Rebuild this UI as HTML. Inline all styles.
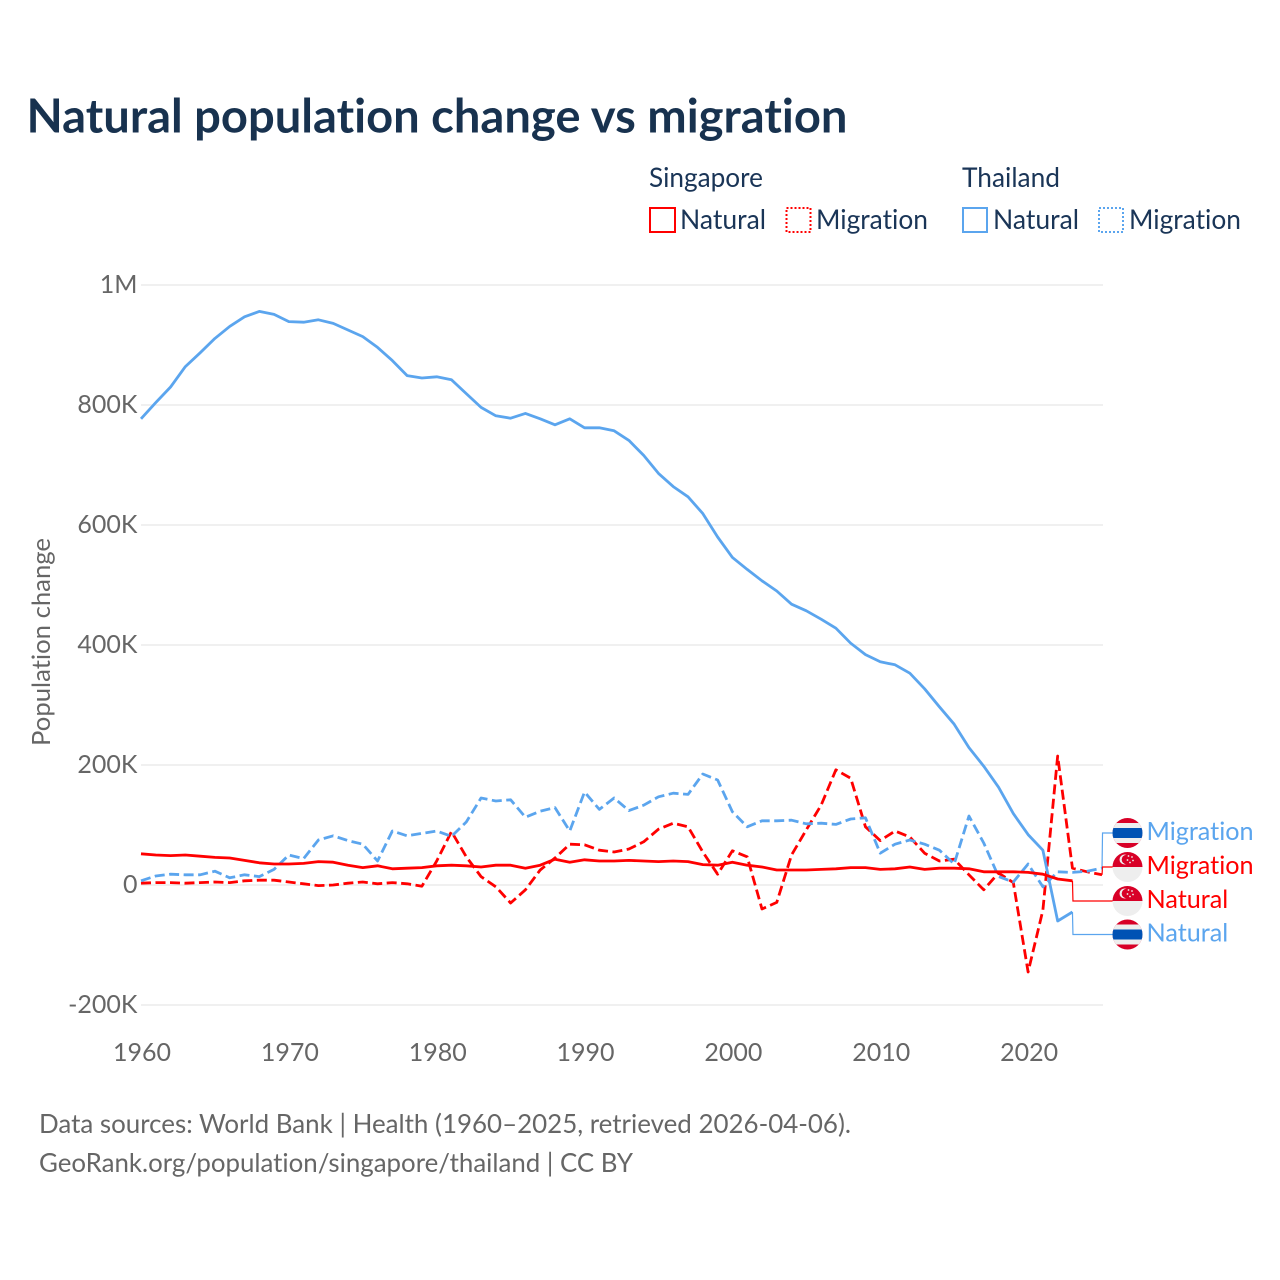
<!DOCTYPE html>
<html lang="en">
<head>
<meta charset="utf-8">
<title>Natural population change vs migration</title>
<style>
html,body{margin:0;padding:0;background:#fff;}
svg{display:block;font-family:"Lato","Carlito","Liberation Sans",sans-serif;font-variant-ligatures:none;font-feature-settings:"liga" 0;}
</style>
</head>
<body>
<svg id="chart" xmlns="http://www.w3.org/2000/svg" width="1280" height="1280" viewBox="0 0 1280 1280">
  <defs>
    <clipPath id="flag-clip"><circle cx="0" cy="0" r="15"/></clipPath>
    <g id="flag-th">
      <g clip-path="url(#flag-clip)">
        <rect x="-15" y="-15" width="30" height="30" fill="#d80027"/>
        <rect x="-15" y="-10" width="30" height="20" fill="#eeeeee"/>
        <rect x="-15" y="-5" width="30" height="10" fill="#0052b4"/>
      </g>
    </g>
    <g id="flag-sg">
      <g clip-path="url(#flag-clip)">
        <rect x="-15" y="-15" width="30" height="15" fill="#d80027"/>
        <rect x="-15" y="0" width="30" height="15" fill="#eeeeee"/>
        <circle cx="-3" cy="-7.5" r="5" fill="#eeeeee"/>
        <circle cx="-1.2" cy="-7.5" r="4.6" fill="#d80027"/>
        <circle cx="1" cy="-11" r="0.9" fill="#eeeeee"/>
        <circle cx="4.5" cy="-10" r="0.9" fill="#eeeeee"/>
        <circle cx="5.5" cy="-6.5" r="0.9" fill="#eeeeee"/>
        <circle cx="2.5" cy="-4.5" r="0.9" fill="#eeeeee"/>
        <circle cx="0" cy="-7" r="0.9" fill="#eeeeee"/>
      </g>
    </g>
  </defs>

  <text x="26.5" y="132.5" font-size="47" font-weight="700" fill="#18324f" textLength="821" lengthAdjust="spacingAndGlyphs">Natural population change vs migration</text>

  <g font-size="27" fill="#1a3557">
    <text x="649" y="187" textLength="114" lengthAdjust="spacingAndGlyphs">Singapore</text>
    <text x="962" y="187" textLength="98" lengthAdjust="spacingAndGlyphs">Thailand</text>
    <g>
      <rect x="650" y="208" width="25" height="24" fill="none" stroke="#ff0000" stroke-width="2"/>
      <text x="680" y="229" textLength="86" lengthAdjust="spacingAndGlyphs">Natural</text>
    </g>
    <g>
      <rect x="786.5" y="208" width="24" height="24" fill="none" stroke="#ff0000" stroke-width="2" stroke-dasharray="2 2"/>
      <text x="816" y="229" textLength="112" lengthAdjust="spacingAndGlyphs">Migration</text>
    </g>
    <g>
      <rect x="963" y="208" width="24" height="24" fill="none" stroke="#5ba5ee" stroke-width="2"/>
      <text x="993" y="229" textLength="86" lengthAdjust="spacingAndGlyphs">Natural</text>
    </g>
    <g>
      <rect x="1099" y="208" width="24" height="24" fill="none" stroke="#5ba5ee" stroke-width="2" stroke-dasharray="2 2"/>
      <text x="1129" y="229" textLength="112" lengthAdjust="spacingAndGlyphs">Migration</text>
    </g>
  </g>

  <g id="grid"></g>
  <g id="y-ticks"></g>
  <g id="x-ticks"></g>
  <text transform="translate(50,746) rotate(-90)" font-size="25" fill="#666666" textLength="208" lengthAdjust="spacingAndGlyphs">Population change</text>
  <g id="connectors"></g>
  <g id="series"></g>
  <g id="end-labels"></g>

  <g font-size="26" fill="#666666">
    <text x="39" y="1133" textLength="812" lengthAdjust="spacingAndGlyphs">Data sources: World Bank | Health (1960–2025, retrieved 2026-04-06).</text>
    <text x="39" y="1172" textLength="594" lengthAdjust="spacingAndGlyphs">GeoRank.org/population/singapore/thailand | CC BY</text>
  </g>
</svg>
<script>
// Values in thousands of people, starting at 1960
const startYear = 1960;
const xTickYears = [1960, 1970, 1980, 1990, 2000, 2010, 2020];
const yTickValues = [-200, 0, 200, 400, 600, 800, 1000];
const yTickLabels = ["-200K", "0", "200K", "400K", "600K", "800K", "1M"];
const thailandNatural = [777,804,830,864,887,911,931,947,956,951,939,938,942,936,925,914,896,874,849,845,847,842,819,796,782,778,786,777,767,777,762,762,757,741,716,686,664,647,619,580,546,526,507,490,468,457,443,428,403,384,372,367,353,327,297,268,229,198,163,119,84,58,-60,-45];
const thailandMigration = [7,15,18,17,17,23,12,17,14,26,50,44,75,82,74,68,40,90,82,86,90,81,105,145,140,142,113,123,129,90,155,126,145,124,133,147,153,151,185,175,122,97,107,107,108,102,103,101,110,112,53,68,75,68,58,35,115,70,14,5,35,-3,22,21,23,28];
const singaporeNatural = [52,50,49,50,48,46,45,41,37,35,35,36,39,38,33,29,32,27,28,29,32,33,32,30,33,33,28,33,43,38,42,40,40,41,40,39,40,39,34,33,38,33,30,25,25,25,26,27,29,29,26,27,30,26,28,28,27,22,22,22,21,18,10,7];
const singaporeMigration = [3,4,4,3,4,5,4,7,8,8,5,2,-1,0,3,5,2,4,2,-2,40,89,47,14,-3,-30,-8,25,45,68,67,58,55,60,72,93,103,97,55,18,57,47,-40,-29,50,92,133,192,178,97,74,90,80,53,40,43,17,-8,20,4,-145,-42,215,28,22,17];

const NS = "http://www.w3.org/2000/svg";
const xScale = function (year) { return 141 + (year - startYear) * 14.785; };
const yScale = function (value) { return 885 - value * 0.6; };
const RED = "#ff0000";
const BLUE = "#5ba5ee";
const LINE_W = 2.8;
const DASH = "10 4.5";

function make(tag, attrs, parent) {
  const el = document.createElementNS(NS, tag);
  for (const k in attrs) el.setAttribute(k, attrs[k]);
  parent.appendChild(el);
  return el;
}

const grid = document.getElementById("grid");
const yTicks = document.getElementById("y-ticks");
yTickValues.forEach(function (v, i) {
  const line = make("line", {x1: 141, x2: 1103, y1: yScale(v), y2: yScale(v), stroke: "#e8e8e8", "stroke-width": 1.2}, grid);
  
  
  const t = make("text", {x: 137.5, y: yScale(v) + 8, "text-anchor": "end", "font-size": 25, fill: "#666666"}, yTicks);
  t.textContent = yTickLabels[i];
  
  
});

const xTicks = document.getElementById("x-ticks");
xTickYears.forEach(function (y) {
  const t = make("text", {x: xScale(y) + 1, y: 1061, "text-anchor": "middle", "font-size": 25, fill: "#666666"}, xTicks);
  t.textContent = y;
  
  
});

function pathFor(values) {
  return values.map(function (v, i) {
    return (i ? "L" : "M") + xScale(startYear + i).toFixed(2) + " " + yScale(v).toFixed(2);
  }).join(" ");
}

const seriesGroup = document.getElementById("series");

const pSgMig = make("path", {d: pathFor(singaporeMigration), fill: "none", stroke: RED, "stroke-width": LINE_W, "stroke-dasharray": DASH, "stroke-linejoin": "round"}, seriesGroup);



const pThMig = make("path", {d: pathFor(thailandMigration), fill: "none", stroke: BLUE, "stroke-width": LINE_W, "stroke-dasharray": DASH, "stroke-linejoin": "round"}, seriesGroup);



const pThNat = make("path", {d: pathFor(thailandNatural), fill: "none", stroke: BLUE, "stroke-width": LINE_W, "stroke-linejoin": "round"}, seriesGroup);



const pSgNat = make("path", {d: pathFor(singaporeNatural), fill: "none", stroke: RED, "stroke-width": LINE_W, "stroke-linejoin": "round"}, seriesGroup);



// Direct end labels: each connector runs from the last point of its series to its label row
const endLabels = [
  {text: "Migration", flag: "flag-th", color: BLUE, values: thailandMigration, row: 833},
  {text: "Migration", flag: "flag-sg", color: RED, values: singaporeMigration, row: 867},
  {text: "Natural", flag: "flag-sg", color: RED, values: singaporeNatural, row: 901},
  {text: "Natural", flag: "flag-th", color: BLUE, values: thailandNatural, row: 934.5}
];
const connectors = document.getElementById("connectors");
const labelsGroup = document.getElementById("end-labels");
endLabels.forEach(function (d) {
  const last = d.values.length - 1;
  const px = xScale(startYear + last);
  const py = yScale(d.values[last]);
  const c = make("path", {d: "M" + px + " " + py + " L" + (px + 0.5) + " " + d.row + " L1113 " + d.row, fill: "none", stroke: d.color, "stroke-width": 1.2}, connectors);
  
  
  const f = make("use", {href: "#" + d.flag, x: 1127.5, y: d.row}, labelsGroup);
  
  
  const t = make("text", {x: 1146.5, y: d.row + 7, "font-size": 25.2, fill: d.color}, labelsGroup);
  t.textContent = d.text;
  
  
});
</script>
</body>
</html>
